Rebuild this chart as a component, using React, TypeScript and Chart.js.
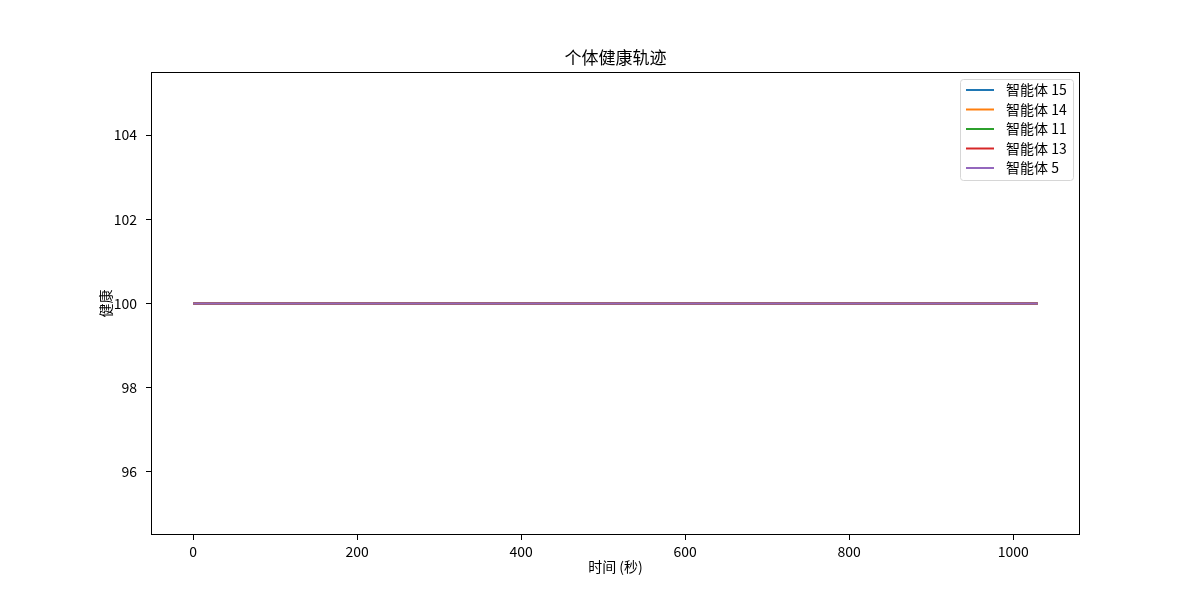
import { useEffect, useRef } from 'react'
import { Chart, registerables } from 'chart.js'
Chart.register(...registerables)

const TITLE = '个体健康轨迹'
const X_LABEL = '时间 (秒)'
const Y_LABEL = '健康'

// time stamps (s) and the health of each agent
const TIMES = [0, 1030]
const AGENTS = ['智能体 15', '智能体 14', '智能体 11', '智能体 13', '智能体 5']
const HEALTH_15 = [100, 100]
const HEALTH_14 = [100, 100]
const HEALTH_11 = [100, 100]
const HEALTH_13 = [100, 100]
const HEALTH_5 = [100, 100]
const COLORS = ['#1f77b4', '#ff7f0e', '#2ca02c', '#d62728', '#9467bd']

const X_TICKS = [0, 200, 400, 600, 800, 1000]
const Y_TICKS = [96, 98, 100, 102, 104]
const X_RANGE = [-51.5, 1081.5]
const Y_RANGE = [94.5, 105.5]

const FONT = '"Noto Sans CJK SC", "DejaVu Sans", sans-serif'

const framePlugin = {
  id: 'mplFrame',
  afterDraw(chart: Chart) {
    const { ctx, chartArea: a } = chart
    ctx.save()
    // axes box
    ctx.strokeStyle = '#000'
    ctx.lineWidth = 1
    ctx.strokeRect(Math.round(a.left) + 0.5, Math.round(a.top) + 0.5, Math.round(a.right - a.left) - 1, Math.round(a.bottom - a.top) - 1)

    ctx.fillStyle = '#000'
    ctx.textAlign = 'center'
    ctx.textBaseline = 'middle'
    ctx.font = `17px ${FONT}`
    ctx.fillText(TITLE, (a.left + a.right) / 2, 58)
    ctx.font = `14px ${FONT}`
    ctx.fillText(X_LABEL, (a.left + a.right) / 2, 567)
    ctx.save()
    ctx.translate(106, (a.top + a.bottom) / 2)
    ctx.rotate(-Math.PI / 2)
    ctx.fillText(Y_LABEL, 0, 0)
    ctx.restore()

    // legend
    const lx = 960.5, ly = 79.5, lw = 113, lh = 101, r = 3
    ctx.beginPath()
    ctx.roundRect(lx, ly, lw, lh, r)
    ctx.fillStyle = 'rgba(255,255,255,0.8)'
    ctx.fill()
    ctx.strokeStyle = '#d6d6d6'
    ctx.stroke()
    ctx.textAlign = 'left'
    chart.data.datasets.forEach((ds, i) => {
      const y = 90 + i * 19.5
      ctx.beginPath()
      ctx.moveTo(966, y)
      ctx.lineTo(994, y)
      ctx.strokeStyle = ds.borderColor as string
      ctx.lineWidth = 2
      ctx.stroke()
      ctx.fillStyle = '#000'
      ctx.fillText(ds.label as string, 1006, y)
    })
    ctx.restore()
  },
}

export default function App() {
  const ref = useRef<HTMLCanvasElement>(null)
  const inst = useRef<Chart | null>(null)

  useEffect(() => {
    if (!ref.current) return
    inst.current?.destroy()
    const series = [HEALTH_15, HEALTH_14, HEALTH_11, HEALTH_13, HEALTH_5]
    inst.current = new Chart(ref.current, {
      type: 'line',
      data: {
        datasets: series.map((s, i) => ({
          label: AGENTS[i],
          data: s.map((v, j) => ({ x: TIMES[j], y: v })),
          borderColor: COLORS[i],
          backgroundColor: COLORS[i],
          borderWidth: 2,
          pointRadius: 0,
          tension: 0,
          order: series.length - 1 - i, // later agents drawn on top, like matplotlib
        })),
      },
      options: {
        animation: false,
        responsive: true,
        maintainAspectRatio: false,
        layout: { padding: { left: 0, top: 72, right: 120, bottom: 0 } },
        plugins: { legend: { display: false }, title: { display: false }, tooltip: { enabled: false } },
        scales: {
          x: {
            type: 'linear',
            min: X_RANGE[0], max: X_RANGE[1],
            afterFit: s => { s.height = 65 },
            afterBuildTicks: s => { s.ticks = X_TICKS.map(v => ({ value: v })) },
            grid: { drawOnChartArea: false, tickLength: 5, color: '#000' },
            border: { display: false },
            ticks: { color: '#000', font: { family: FONT, size: 14 }, padding: 3, maxRotation: 0, callback: v => String(v) },
          },
          y: {
            type: 'linear',
            min: Y_RANGE[0], max: Y_RANGE[1],
            afterFit: s => { s.width = 151 },
            afterBuildTicks: s => { s.ticks = Y_TICKS.map(v => ({ value: v })) },
            grid: { drawOnChartArea: false, tickLength: 5, color: '#000' },
            border: { display: false },
            ticks: { color: '#000', font: { family: FONT, size: 14 }, padding: 9, callback: v => String(v) },
          },
        },
      },
      plugins: [framePlugin],
    })
    return () => inst.current?.destroy()
  }, [])

  return (
    <div style={{ position: 'absolute', left: 0, top: 0, width: 1200, height: 600, background: '#fff' }}>
      <canvas ref={ref} />
    </div>
  )
}
